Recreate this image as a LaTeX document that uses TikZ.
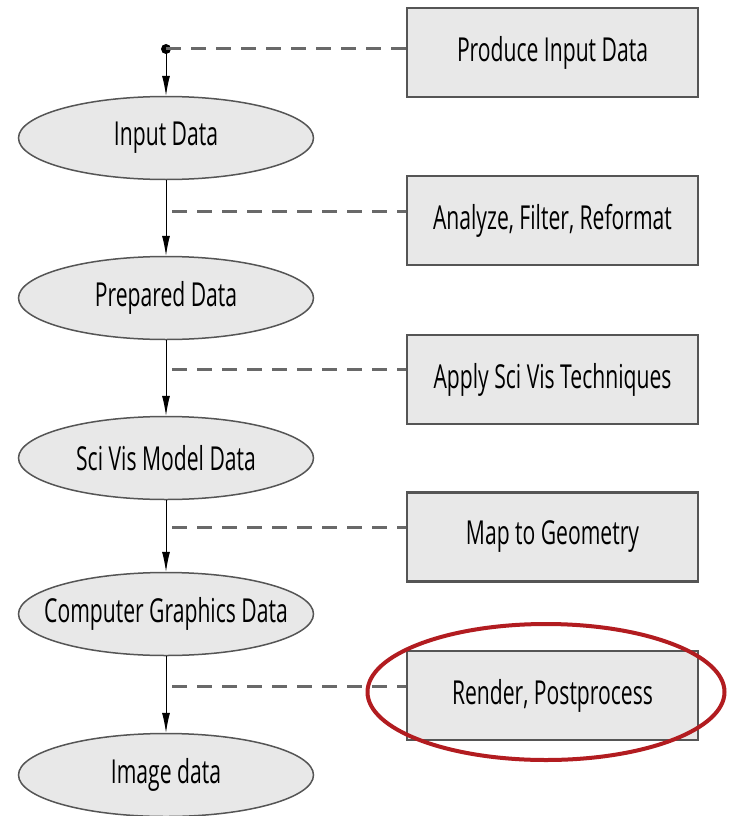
\documentclass[tikz,border=0pt]{standalone}
\usepackage{fontspec}
\setmainfont[FakeStretch=0.64]{Open Sans}
\usetikzlibrary{shapes.geometric,arrows.meta}
\definecolor{boxfill}{RGB}{232,232,232}
\definecolor{edgegray}{RGB}{85,85,85}
\definecolor{dashgray}{RGB}{105,105,105}
\definecolor{markred}{RGB}{178,28,32}
\newcommand{\lbl}[1]{\makebox[0pt][c]{#1}}
\begin{document}
\begin{tikzpicture}[x=1pt,y=-1pt,
  datanode/.style={ellipse,draw=edgegray,line width=1.5pt,fill=boxfill,
    minimum width=295pt,minimum height=83pt,inner sep=0pt,font=\fontsize{33}{37}\selectfont},
  stepbox/.style={rectangle,draw=edgegray,line width=2.2pt,fill=boxfill,
    minimum width=291pt,minimum height=89pt,inner sep=0pt,font=\fontsize{33}{37}\selectfont},
  flow/.style={draw=black,line width=1pt,-{Latex[length=20pt,width=8pt]}},
  link/.style={draw=dashgray,line width=3pt,dash pattern=on 15pt off 10pt}]
\useasboundingbox[fill=white] (0,0) rectangle (735,816);

% data stages
\node[datanode] (d1) at (166,138) {\lbl{Input Data}};
\node[datanode] (d2) at (166,298) {\lbl{Prepared Data}};
\node[datanode] (d3) at (166,458) {\lbl{Sci Vis Model Data}};
\node[datanode] (d4) at (166,614) {\lbl{Computer Graphics Data}};
\node[datanode] (d5) at (166,775) {\lbl{Image data}};

% processing steps
\node[stepbox] (s1) at (552.5,52.5) {Produce Input Data};
\node[stepbox] (s2) at (552.5,220.5) {Analyze, Filter, Reformat};
\node[stepbox] (s3) at (552.5,379.5) {Apply Sci Vis Techniques};
\node[stepbox] (s4) at (552.5,537) {Map to Geometry};
\node[stepbox] (s5) at (552.5,695.5) {Render, Postprocess};

% start point
\coordinate (start) at (166,49);
\fill (start) circle (5pt);

% flow arrows
\draw[flow] (start) -- (d1.north);
\draw[flow] (d1.south) -- (d2.north);
\draw[flow] (d2.south) -- (d3.north);
\draw[flow] (d3.south) -- (d4.north);
\draw[flow] (d4.south) -- (d5.north);

% dashed links from the flow to the steps
\coordinate (j1) at (172,211);
\coordinate (j2) at (172,369);
\coordinate (j3) at (172,527);
\coordinate (j4) at (172,686);
\draw[link] (start) -- (start -| s1.west);
\draw[link] (j1) -- (j1 -| s2.west);
\draw[link] (j2) -- (j2 -| s3.west);
\draw[link] (j3) -- (j3 -| s4.west);
\draw[link] (j4) -- (j4 -| s5.west);

% highlight around the last step
\node[ellipse,draw=markred,line width=4pt,minimum width=357pt,minimum height=136pt,inner sep=0pt]
  (hl) at (546,692) {};
\end{tikzpicture}
\end{document}
